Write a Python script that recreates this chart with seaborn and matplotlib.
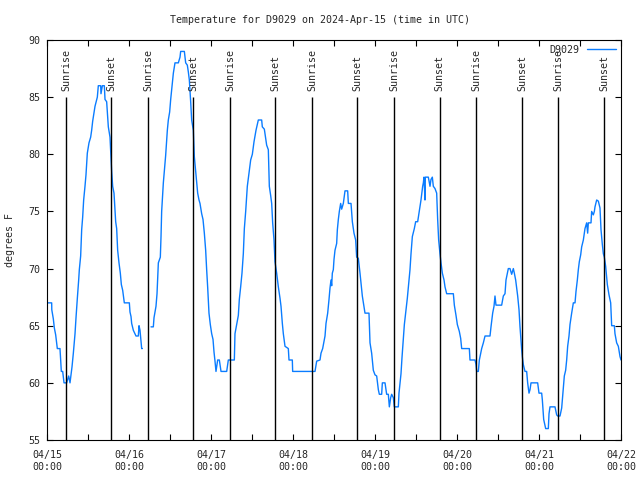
import pandas as pd
import seaborn as sns
import matplotlib
matplotlib.use("Agg")
import matplotlib.pyplot as plt
import matplotlib.dates as mdates
from matplotlib.lines import Line2D

# Data (hours since 2024-04-15 00:00 UTC, degrees F)
hours_a = [0.0, 1.37, 1.4, 1.85, 2.15, 2.54, 3.02, 3.80, 4.0, 4.19, 4.59, 4.98, 5.76, 6.34, 6.73,
           7.32, 7.71, 8.20, 8.49, 8.88, 9.27, 9.46, 9.85, 10.15, 10.44, 10.73, 11.12, 11.41, 11.80,
           12.29, 12.78, 13.07, 13.37, 14.05, 14.73, 15.02, 15.71, 15.80, 16.20, 16.78, 16.98, 17.46,
           17.95, 18.44, 18.73, 18.93, 19.22, 19.61, 20.10, 20.39, 20.68, 21.07, 21.46, 21.76, 22.15,
           22.63, 24.10, 24.29, 24.59, 24.78, 25.27, 26.05, 26.73, 26.93, 27.22, 27.71, 27.90]
temps_a = [67, 67, 66.4, 65.6, 64.8, 64.2, 63, 63, 62, 61, 61, 60, 60, 60.6, 60,
           61.4, 62.6, 64.3, 65.7, 67.4, 69, 69.9, 71.1, 73.4, 74.5, 76, 77.2, 78.2, 80.1,
           81, 81.5, 82.1, 82.9, 84.2, 85, 86, 86, 85.3, 86, 86, 84.8, 84.6,
           82.4, 81.5, 79.7, 78.5, 77.2, 76.6, 74.1, 73.5, 71.6, 70.5, 69.6, 68.6, 68.1,
           67, 67, 66.2, 65.8, 65.2, 64.6, 64.1, 64.1, 65, 64.6, 63, 63]

hours_b = [30.44, 31.12, 31.32, 31.61, 31.90, 32.20, 32.59, 33.17, 33.37, 33.56, 34.05, 34.34, 34.73,
           35.22, 35.51, 35.90, 36.20, 36.68, 36.98, 37.46, 38.44, 38.93, 39.12, 40.20, 40.39, 40.59,
           41.07, 41.37, 41.66, 42.05, 42.34, 42.83, 43.12, 43.80, 44.10, 44.49, 44.78, 45.27, 45.66,
           46.05, 46.44, 46.73, 47.02, 47.41, 47.80, 48.20, 48.59, 48.88, 49.17, 49.46, 49.95, 50.44,
           50.93, 52.59, 53.07, 54.83, 55.02, 55.51, 56.0, 56.29, 56.68, 57.07, 57.46, 57.76, 58.15,
           58.63, 58.93, 59.22, 59.61, 60.10, 60.59, 61.17, 61.56, 61.85, 62.83, 63.02, 63.61, 64.0,
           64.29, 64.78, 65.07, 65.46, 65.76, 66.05, 66.44, 66.73, 67.22, 67.71, 68.20, 68.49, 68.88,
           69.17, 69.66, 70.63, 70.83, 71.80, 71.90, 78.44, 78.93, 79.90, 80.20, 80.68, 81.37, 81.66,
           82.15, 82.54, 82.83, 83.12, 83.32, 83.51, 83.80, 84.0, 84.29, 84.78, 84.98, 85.27, 85.56,
           85.95, 86.24, 86.73, 87.22, 88.0, 88.20, 88.98, 89.37, 89.85, 90.34, 90.63, 91.12, 91.61,
           92.29, 92.59, 93.07, 94.24, 94.54, 95.02, 95.51, 96.0, 96.49, 96.98, 97.27, 97.95, 98.15,
           98.93, 99.41, 99.90, 100.20, 100.59, 100.88, 101.37, 101.66, 102.83, 103.02, 103.61, 103.90,
           104.29, 104.59, 105.07, 105.46, 105.76, 106.24, 106.54, 106.93, 107.51, 107.90, 108.49,
           109.17, 109.46, 109.95, 110.15, 110.34, 110.63, 110.73, 111.61, 112.10, 112.39, 112.78,
           113.07, 113.56, 114.05, 114.34, 114.63, 115.02, 115.32, 115.71, 116.20, 116.49, 116.98,
           118.93, 119.22, 119.71, 120.10, 120.68, 121.07, 121.37, 123.61, 123.80, 125.27, 125.56,
           125.76, 126.24, 126.54, 126.93, 127.22, 127.71, 128.20, 129.66, 129.95, 130.44, 130.83,
           131.12, 131.41, 131.80, 133.07, 133.56, 134.05, 134.34, 134.73, 135.02, 135.51, 136.0,
           136.49, 136.78, 137.17, 137.76, 138.15, 138.44, 138.93, 139.12, 139.41, 139.90, 140.39,
           140.68, 141.07, 141.37, 141.66, 143.61, 144.0, 144.78, 144.98, 145.37, 145.95, 146.73,
           146.93, 147.22, 148.68, 149.17, 149.46, 150.15, 150.64, 151.12, 151.41, 151.80, 152.10,
           152.39, 152.78, 153.07, 153.56, 154.05, 154.54, 154.83, 155.22, 155.51, 155.80, 156.20,
           156.49, 156.98, 157.46, 157.95, 158.24, 158.44, 159.22, 159.41, 159.90, 160.20, 160.39,
           160.88, 161.37, 161.85, 162.15, 162.54, 162.83, 163.12, 163.51, 164.0, 164.49, 164.98,
           165.27, 166.05, 166.24, 166.73, 167.22, 167.71, 168.0]
temps_b = [64.9, 64.9, 65.7, 66.2, 66.7, 67.8, 70.5, 71, 72.8, 75, 77.5, 78.5, 79.9,
           82.1, 83, 83.7, 84.8, 86.2, 87.1, 88, 88, 88.5, 89, 89, 88.5, 88,
           87.8, 87.2, 86.5, 84.6, 83, 82.1, 79.8, 77.6, 76.6, 76, 75.7, 74.8, 74.3,
           73.1, 71.6, 69.9, 68.4, 66.1, 65.1, 64.3, 63.8, 62.7, 61.9, 61, 62, 62,
           61, 61, 62, 62, 64.3, 65.1, 65.9, 67.3, 68.4, 69.6, 71.3, 73.5, 75,
           77.2, 77.9, 78.6, 79.5, 80, 81.1, 82.1, 82.6, 83, 83, 82.4, 82.2, 81.4,
           80.8, 80.4, 77.2, 76.4, 75.7, 74, 72.5, 70.6, 69.6, 68.4, 67.4, 66.7, 65.2,
           64.3, 63.2, 63, 62, 62, 61, 61, 61.9, 62, 62.6, 63, 64.1, 65.2,
           66.1, 67.3, 68.3, 69, 68.5, 69.6, 69.9, 70.8, 71.6, 72.2, 73.4, 74.3, 75,
           75.7, 75.2, 75.7, 76.8, 76.8, 75.7, 75.7, 74.1, 73.1, 72.5, 71, 70.9, 69.6,
           67.6, 67, 66.1, 66.1, 63.5, 62.6, 61.1, 60.7, 60.6, 59.4, 59, 59, 60,
           60, 59, 59, 57.9, 58.7, 59, 58.7, 57.9, 57.9, 59.1, 60.8, 62.2,
           63.8, 65.1, 66.4, 67.4, 68.4, 69.9, 71.3, 72.8, 73.5, 74.1, 74.1,
           75.4, 76, 77.2, 77.5, 78, 76, 78, 78, 77.2, 77.8, 78,
           77.2, 77, 76.6, 74.3, 72.5, 71.3, 70.5, 69.6, 69, 68.4, 67.8,
           67.8, 66.8, 65.9, 65.1, 64.5, 63.9, 63, 63, 62, 62, 61.6,
           61, 61, 62, 62.6, 63, 63.5, 64.1, 64.1, 64.9, 66.1, 66.7,
           67.6, 66.8, 66.8, 66.8, 67.6, 67.8, 69, 69.6, 70, 70, 69.5,
           70, 69.6, 69, 67.6, 66.4, 64.9, 62.9, 62.3, 61.6, 61, 61,
           60, 59.1, 59.4, 60, 60, 59.1, 59.1, 58.5, 56.8, 56, 56,
           57.3, 57.9, 57.9, 57.2, 57.1, 57.1, 57.8, 59.5, 60.6, 61.1, 62,
           63.2, 64.1, 65.1, 66.1, 67, 67, 68, 69, 69.9, 70.6, 71.2,
           71.9, 72.5, 73.5, 74, 73.1, 74, 74, 75, 74.7, 75, 75.4,
           76, 75.9, 75.3, 73.4, 72.1, 71.3, 71, 70.2, 68.6, 67.7, 67,
           65, 65, 64.3, 63.5, 63.2, 62.3, 62]

sunrise = ["2024-04-15 05:39", "2024-04-16 05:39", "2024-04-17 05:39", "2024-04-18 05:39",
           "2024-04-19 05:39", "2024-04-20 05:39", "2024-04-21 05:39"]
sunset = ["2024-04-15 18:49", "2024-04-16 18:49", "2024-04-17 18:44", "2024-04-18 18:49",
          "2024-04-19 18:56", "2024-04-20 19:07", "2024-04-21 19:07"]

start = pd.Timestamp("2024-04-15 00:00")
df = pd.DataFrame({
    "time": start + pd.to_timedelta(hours_a + hours_b, unit="h"),
    "temp": temps_a + temps_b,
    "seg": [0] * len(hours_a) + [1] * len(hours_b),
})

sns.set_style("ticks")
plt.rcParams["font.family"] = ["DejaVu Sans Mono", "DejaVu Sans"]
plt.rcParams["font.size"] = 7.2

blue = "#0a7cff"
fig = plt.figure(figsize=(6.4, 4.8), dpi=100)
ax = fig.add_axes([47 / 640, 40 / 480, 574 / 640, 400 / 480])

sns.lineplot(data=df, x="time", y="temp", units="seg", estimator=None, sort=False,
             color=blue, lw=1, ax=ax)

rise = pd.to_datetime(sunrise)
sets = pd.to_datetime(sunset)
ax.vlines(rise, 55, 85, color="black", lw=1)
ax.vlines(sets, 55, 85, color="black", lw=1)
for t in rise:
    ax.text(t, 85.5, "Sunrise", rotation=90, ha="center", va="bottom")
for t in sets:
    ax.text(t, 85.5, "Sunset", rotation=90, ha="center", va="bottom")

ax.set_xlim(start, start + pd.Timedelta(days=7))
ax.set_ylim(55, 90)
ax.set_yticks(range(55, 91, 5))
ax.xaxis.set_major_locator(mdates.DayLocator())
ax.xaxis.set_minor_locator(mdates.HourLocator(byhour=[12]))
ax.xaxis.set_major_formatter(mdates.DateFormatter("%m/%d\n%H:%M"))
ax.tick_params(which="both", direction="in", top=True, right=True, length=4, width=0.8, color="black")
ax.tick_params(axis="x", pad=7)
ax.tick_params(axis="y", pad=5)
for lab in ax.get_xticklabels():
    lab.set_linespacing(1.3)
for s in ax.spines.values():
    s.set_visible(True)
    s.set_linewidth(0.8)
    s.set_color("black")
ax.set_xlabel("")
ax.set_ylabel("")

ax.legend(handles=[Line2D([], [], color=blue, lw=1)], labels=["D9029"], loc="upper right",
          frameon=False, markerfirst=False, handlelength=2.9, borderaxespad=0.1, handletextpad=0.8)

fig.text(0.5, 1 - 20 / 480, "Temperature for D9029 on 2024-Apr-15 (time in UTC)", ha="center", va="center")
fig.text(10 / 640, 0.5, "degrees F", rotation=90, ha="center", va="center")

fig.savefig("out.png", dpi=100)
